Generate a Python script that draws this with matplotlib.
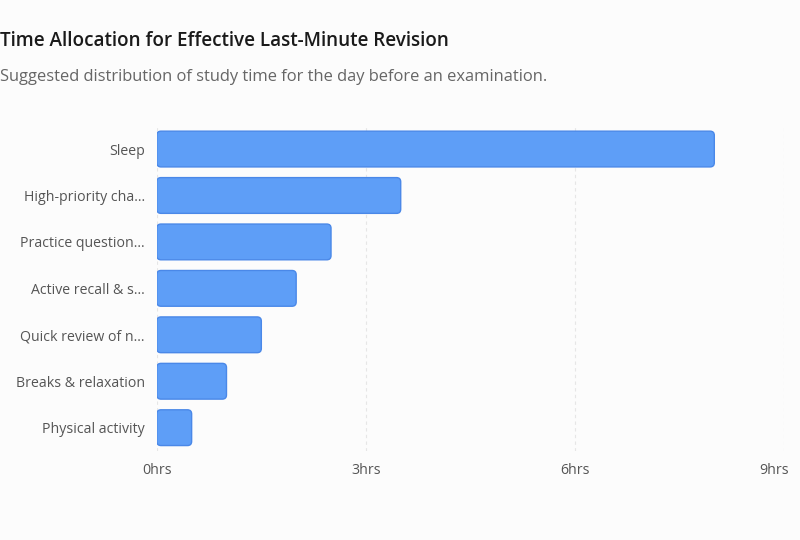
import matplotlib.pyplot as plt
import matplotlib.transforms as mtransforms
from matplotlib.patches import FancyBboxPatch

categories = ["Sleep", "High-priority cha...", "Practice question...", "Active recall & s...",
              "Quick review of n...", "Breaks & relaxation", "Physical activity"]
hours = [8, 3.5, 2.5, 2, 1.5, 1, 0.5]
xticks = [0, 3, 6, 9]
xtick_labels = ["0hrs", "3hrs", "6hrs", "9hrs"]

plt.rcParams['font.family'] = ['Open Sans', 'DejaVu Sans']

bg = '#fcfcfc'
fig = plt.figure(figsize=(8, 5.4), dpi=100, facecolor=bg)
ax = fig.add_axes([0.196, 0.165, 0.784, 0.602], facecolor=bg)

ax.set_xlim(0, 9)
ax.set_ylim(len(categories) - 0.5, -0.5)

# rounded bars; aspect corrects for px per unit on x vs y
bar_h = 0.77
x_px = 0.784 * 800 / 9
y_px = 0.602 * 540 / len(categories)
aspect = x_px / y_px
for i, v in enumerate(hours):
    box = FancyBboxPatch((0, i - bar_h / 2), v, bar_h,
                         boxstyle="round,pad=0,rounding_size=0.06",
                         mutation_aspect=aspect,
                         facecolor='#5e9ef7', edgecolor='#4a88e8', linewidth=1.0, zorder=3)
    ax.add_patch(box)

ax.set_yticks(range(len(categories)))
ax.set_yticklabels(categories, fontsize=10.2, color='#555555')
ax.set_xticks(xticks)
ax.set_xticklabels(xtick_labels, fontsize=10.2, color='#555555')
ax.tick_params(axis='both', length=0)
ax.tick_params(axis='y', pad=8.5)
ax.tick_params(axis='x', pad=9)

# last tick label kept inside the figure
last = ax.get_xticklabels()[-1]
last.set_horizontalalignment('right')
last.set_transform(last.get_transform() + mtransforms.ScaledTranslation(5 / 100, 0, fig.dpi_scale_trans))

ax.grid(axis='x', color='#e6e6e6', linestyle=(0, (3, 3)), linewidth=0.8, zorder=0)
for s in ax.spines.values():
    s.set_visible(False)

fig.text(0.0, 0.925, "Time Allocation for Effective Last-Minute Revision",
         fontsize=13.6, fontweight='semibold', color='#1a1a1a', ha='left', va='center')
fig.text(0.0, 0.857, "Suggested distribution of study time for the day before an examination.",
         fontsize=11.9, color='#666666', ha='left', va='center')

fig.savefig('out.png', dpi=100, facecolor=bg)
